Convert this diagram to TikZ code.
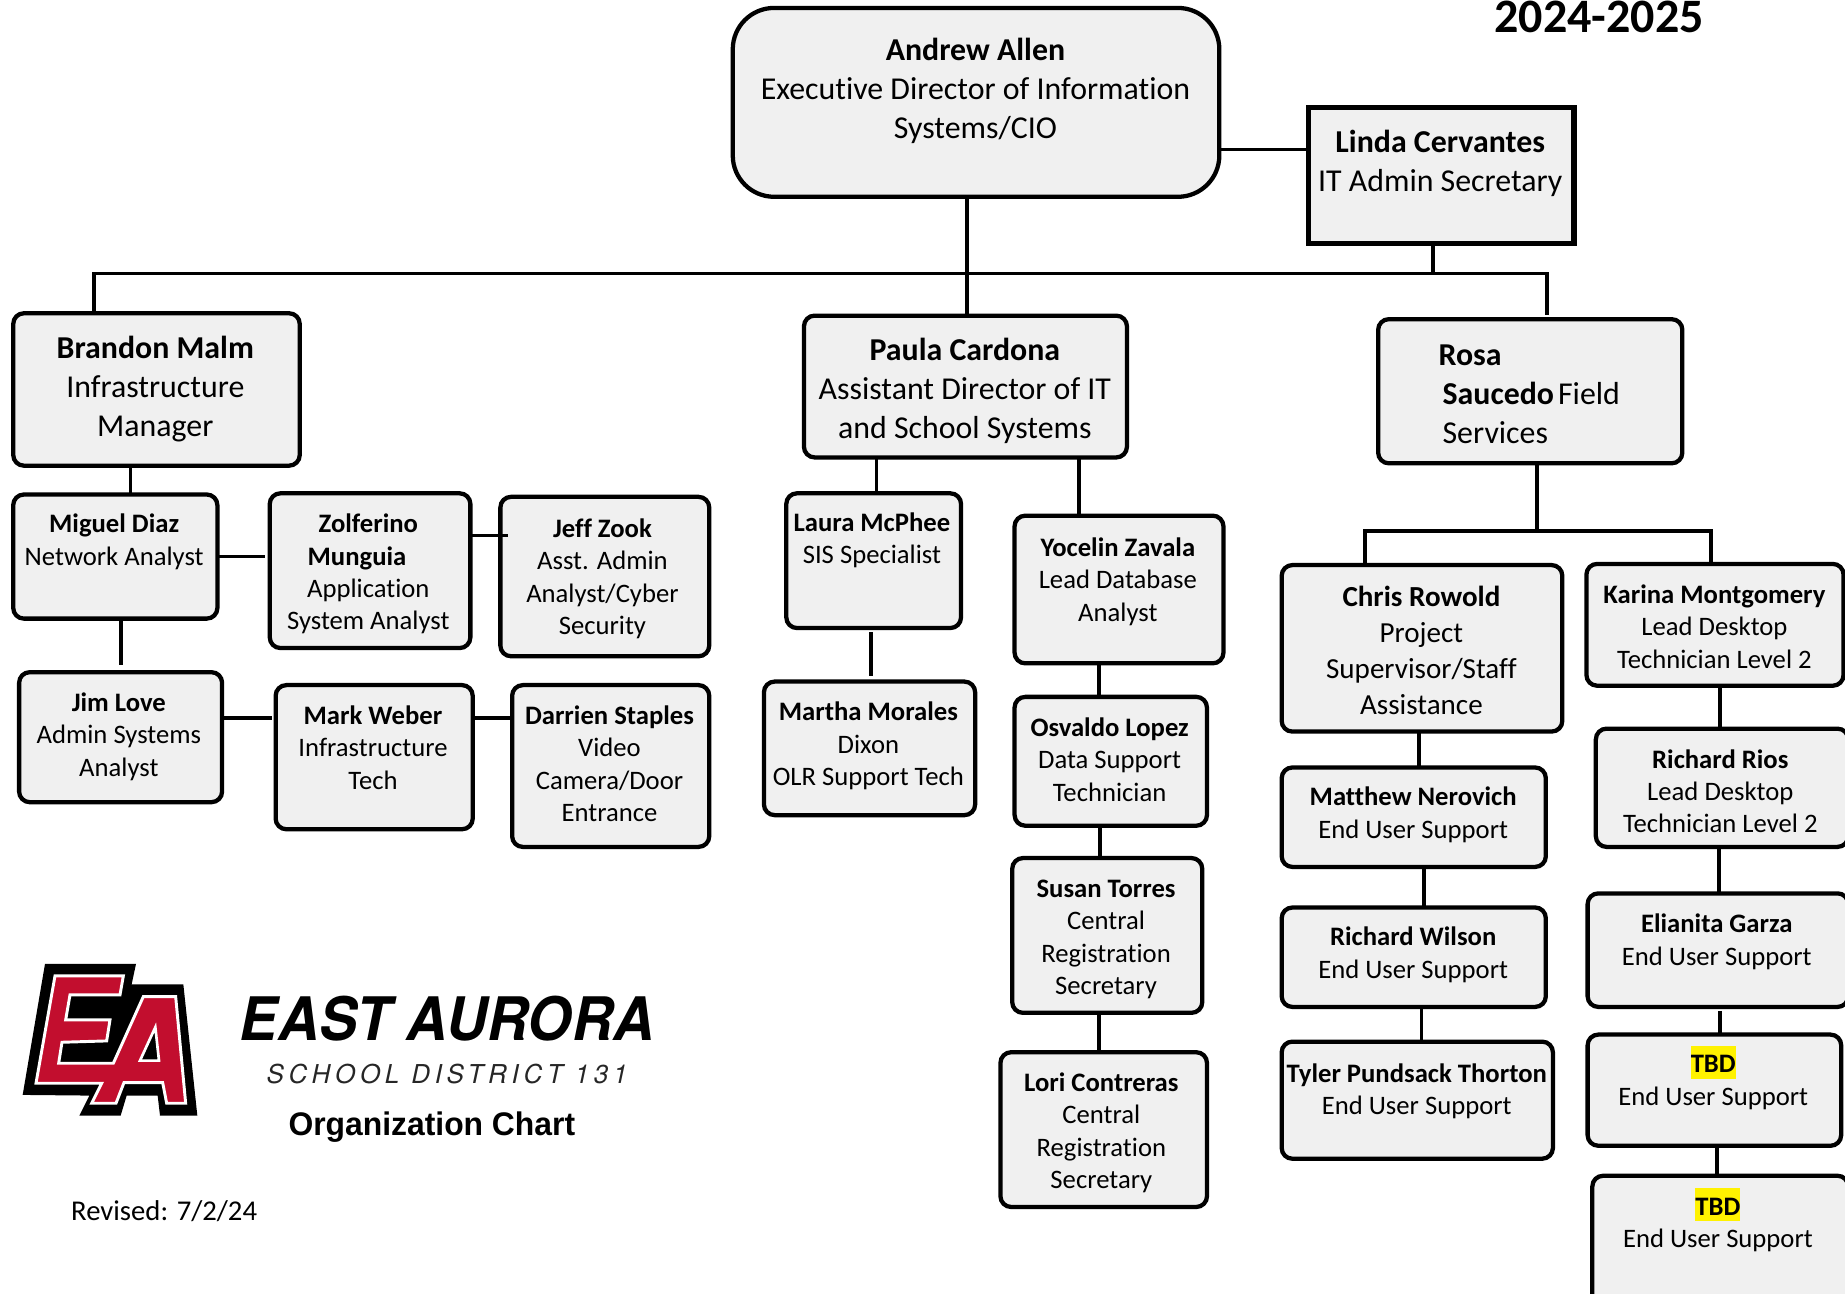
\documentclass[tikz,border=0pt]{standalone}
\usepackage{fontspec}
\setmainfont{Carlito}[Ligatures=NoCommon]
\newfontfamily\heros{TeX Gyre Heros}
\newfontfamily\herosls{TeX Gyre Heros}[LetterSpace=18]
\newfontfamily\libsans{Liberation Sans}
\definecolor{boxfill}{HTML}{F0F0F0}
\definecolor{eared}{HTML}{C20E2E}
\tikzset{
  x=0.8825pt,y=-0.8825pt,
  orgbox/.style={draw=black,fill=boxfill,line width=3.2pt,rounded corners=8pt,inner sep=0pt,outer sep=0pt},
  bigbox/.style={orgbox,rounded corners=31pt},
  midbox/.style={orgbox,rounded corners=8pt},
  sqbox/.style={orgbox,rounded corners=0pt,line width=4pt},
  lbl/.style={anchor=base,inner sep=0pt,outer sep=0pt,text=black},
  fontL/.style={font=\fontsize{23.9}{29.1}\selectfont},
  fontM/.style={font=\fontsize{21.8}{26.8}\selectfont},
  fontS/.style={font=\fontsize{20}{24.3}\selectfont},
  conn/.style={draw=black,line width=2.8pt},
  busline/.style={draw=black,line width=2.5pt},
}
% name, style, x1,y1,x2,y2, text centre, first baseline, lines
\newcommand{\ob}[9]{%
  \node[#2,minimum width={(#5-#3-2.5)*0.8825pt},minimum height={(#6-#4-2.5)*0.8825pt}] (#1) at ({(#3+#5)/2},{(#4+#6)/2}) {};
  \ifx\relax#9\relax\else
  \node[lbl,\curfont] (#1t) at (#7,{#8+0.7}) {\begin{tabular}[t]{@{}c@{}}#9\end{tabular}};
  \fi}
\setlength{\fboxsep}{0pt}
\newcommand{\tbd}{\colorbox{yellow}{\rule[-4.3pt]{0pt}{24.3pt}\textbf{TBD}}}
\begin{document}
\begin{tikzpicture}
\useasboundingbox (0,0) rectangle (1568,1098.9);
\def\curfont{fontL}
\ob{andrew}{bigbox}{621.5}{5.5}{1037.5}{168.5}{829}{51}{\textbf{Andrew Allen}\\Executive Director of Information\\Systems/CIO}
\ob{linda}{sqbox}{1111}{90}{1339}{208}{1224}{129}{\textbf{Linda Cervantes}\\IT Admin Secretary}
\ob{brandon}{orgbox}{10}{265}{256}{397}{132}{304}{\textbf{Brandon Malm}\\Infrastructure\\Manager}
\ob{paula}{orgbox}{682}{267}{959}{390}{820}{306}{\textbf{Paula Cardona}\\Assistant Director of IT\\and School Systems}
\ob{rosa}{orgbox}{1170}{270}{1431}{395}{1300}{310}{}
\node[lbl,fontL,anchor=base west] (rosat) at (1226,310.7) {\begin{tabular}[t]{@{}l@{}}\hspace*{-3pt}\textbf{Rosa}\\\textbf{Saucedo}\hspace{3pt}Field\\Services\end{tabular}};
\def\curfont{fontM}
\ob{chris}{midbox}{1088}{479}{1329}{623}{1208}{515}{\textbf{Chris Rowold}\\Project\\Supervisor/Staff\\Assistance}
\def\curfont{fontS}
\ob{miguel}{orgbox}{10}{419}{186}{527}{97}{452}{\textbf{Miguel Diaz}\\Network Analyst}
\ob{zolf}{orgbox}{228}{418}{401}{552}{313}{452}{\textbf{Zolferino}\\\textbf{Munguia}\hspace*{17pt}\\Application\\System Analyst}
\ob{jeff}{orgbox}{424}{421}{604}{559}{512}{456}{\textbf{Jeff Zook}\\Asst. Admin\\Analyst/Cyber\\Security}
\ob{jim}{orgbox}{15}{570}{190}{683}{101}{604}{\textbf{Jim Love}\\Admin Systems\\Analyst}
\ob{mark}{orgbox}{233}{581}{403}{706}{317}{615}{\textbf{Mark Weber}\\Infrastructure\\Tech}
\ob{darrien}{orgbox}{434}{581}{604}{721}{518}{615}{\textbf{Darrien Staples}\\Video\\Camera/Door\\Entrance}
\ob{laura}{orgbox}{667}{418}{818}{535}{741}{451}{\textbf{Laura McPhee}\\SIS Specialist}
\ob{martha}{orgbox}{648}{578}{830}{694}{738}{612}{\textbf{Martha Morales}\\Dixon\\OLR Support Tech}
\ob{yocelin}{orgbox}{861}{437}{1041}{565}{950}{472}{\textbf{Yocelin Zavala}\\Lead Database\\Analyst}
\ob{osvaldo}{orgbox}{861}{591}{1027}{703}{943}{625}{\textbf{Osvaldo Lopez}\\Data Support\\Technician}
\ob{susan}{orgbox}{859}{728}{1023}{862}{940}{762}{\textbf{Susan Torres}\\Central\\Registration\\Secretary}
\ob{lori}{orgbox}{849}{893}{1027}{1027}{936}{927}{\textbf{Lori Contreras}\\Central\\Registration\\Secretary}
\ob{matthew}{orgbox}{1088}{651}{1315}{738}{1201}{684}{\textbf{Matthew Nerovich}\\End User Support}
\ob{wilson}{orgbox}{1088}{770}{1315}{857}{1201}{803}{\textbf{Richard Wilson}\\End User Support}
\ob{tyler}{orgbox}{1088}{884}{1321}{986}{1204}{919}{\textbf{Tyler Pundsack Thorton}\\End User Support}
\ob{karina}{orgbox}{1347}{478}{1568}{584}{1457}{512}{\textbf{Karina Montgomery}\\Lead Desktop\\Technician Level 2}
\ob{rios}{orgbox}{1355}{618}{1572}{721}{1462}{652}{\textbf{Richard Rios}\\Lead Desktop\\Technician Level 2}
\ob{elianita}{orgbox}{1348}{758}{1572}{857}{1459}{792}{\textbf{Elianita Garza}\\End User Support}
\ob{tbda}{orgbox}{1348}{878}{1566}{975}{1456}{911}{\tbd\\End User Support}
\ob{tbdb}{orgbox}{1352}{998}{1572}{1116}{1460}{1032}{\tbd\\End User Support}
% top level connectors
\coordinate (busl) at (80,232.5);
\coordinate (busr) at (1315,232.5);
\draw[conn] (andrew.east |- 0,127) -- (linda.west |- 0,127);
\draw[conn] (andrew.south -| 822,0) -- (paula.north -| 822,0);
\draw[conn] (brandon.north -| busl) -- (busl);
\draw[busline,line cap=rect] (busl) -- (busr);
\draw[conn,shorten >=3.5pt] (busr) -- (rosa.north -| busr);
\draw[conn] (linda.south -| 1218,0) -- (1218,232.5);
% rosa
\coordinate (rbl) at (1160,451);
\coordinate (rbr) at (1454,451);
\draw[conn] (rosa.south -| 1306,0) -- (1306,451);
\draw[conn,line join=miter] (chris.north -| rbl) -- (rbl) -- (rbr) -- (karina.north -| rbr);
% left group
\draw[conn] (brandon.south -| 111,0) -- (miguel.north -| 111,0);
\draw[conn,shorten >=3.5pt] (miguel.east |- 0,473) -- (zolf.west |- 0,473);
\draw[conn,shorten >=-6pt] (zolf.east |- 0,455) -- (jeff.west |- 0,455);
\draw[conn,shorten <=1pt,shorten >=5.5pt] (miguel.south -| 103,0) -- (jim.north -| 103,0);
\draw[conn,shorten >=2.5pt] (jim.east |- 0,610) -- (mark.west |- 0,610);
\draw[conn] (mark.east |- 0,610) -- (darrien.west |- 0,610);
% centre group
\draw[conn] (paula.south -| 745,0) -- (laura.north -| 745,0);
\draw[conn] (paula.south -| 917,0) -- (yocelin.north -| 917,0);
\draw[conn,shorten <=3pt,shorten >=4pt] (laura.south -| 740,0) -- (martha.north -| 740,0);
\draw[conn] (yocelin.south -| 934,0) -- (osvaldo.north -| 934,0);
\draw[conn] (osvaldo.south -| 935,0) -- (susan.north -| 935,0);
\draw[conn] (susan.south -| 934,0) -- (lori.north -| 934,0);
% right groups
\draw[conn] (chris.south -| 1206,0) -- (matthew.north -| 1206,0);
\draw[conn] (matthew.south -| 1210,0) -- (wilson.north -| 1210,0);
\draw[conn] (wilson.south -| 1208,0) -- (tyler.north -| 1208,0);
\draw[conn] (karina.south -| 1462,0) -- (rios.north -| 1462,0);
\draw[conn] (rios.south -| 1461,0) -- (elianita.north -| 1461,0);
\draw[conn,shorten <=3pt] (elianita.south -| 1462,0) -- (tbda.north -| 1462,0);
\draw[conn] (tbda.south -| 1459,0) -- (tbdb.north -| 1459,0);
% title
\node[lbl,font=\fontsize{36}{40}\selectfont\bfseries] (title) at (1359,28) {2024-2025};
% logo
\begin{scope}[shift={(8.5,807.3)},x=0.25pt,y=-0.25pt]
\fill[black] (105,42)--(378,42)--(365,103)--(520,103)--(562,497)--(450,497)--(443,437)--(350,437)--(332,497)--(208,497)--(238,437)--(38,435)--cycle;
\filldraw[fill=eared,draw=white,line width=2.2pt,line join=miter]
 (135,78)--(340,78)--(330,135)--(180,135)--(167,210)--(300,210)--(290,273)--(156,277)--(146,340)--(310,340)--(400,140)--(497,140)--(527,460)--(470,460)--(458,398)--(342,398)--(318,460)--(245,460)--(275,400)--(78,400)--cycle;
\filldraw[fill=black,draw=white,line width=2pt,line join=miter] (436,232)--(390,332)--(447,332)--cycle;
\end{scope}
\node[lbl,font=\fontsize{45}{50}\selectfont\heros\bfseries\itshape,xscale=0.95] (ea) at (380,884) {EAST AURORA};
\node[lbl,font=\fontsize{19.5}{22}\selectfont\herosls\itshape,text=black!85] (sd) at (380,921) {SCHOOL DISTRICT 131};
\node[lbl,font=\fontsize{24.5}{28}\selectfont\libsans\bfseries,xscale=0.975] (oc) at (367,965) {Organization Chart};
\node[lbl,font=\fontsize{21.5}{26}\selectfont] (rev) at (139.5,1037) {Revised: 7/2/24};
\end{tikzpicture}
\end{document}
